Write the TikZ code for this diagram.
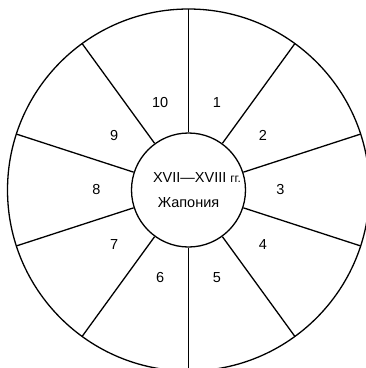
\documentclass[tikz,border=0pt]{standalone}
\usepackage{fontspec}
\setmainfont{Liberation Sans}
\usetikzlibrary{calc}
\begin{document}
\begin{tikzpicture}[x=1pt,y=1pt,
  ln/.style={line width=1.3pt,black},
  num/.style={font=\fontsize{14.5}{14}\selectfont,inner sep=0pt},
  ctext/.style={font=\fontsize{14.5}{14}\selectfont,inner sep=0pt,anchor=base}]
\useasboundingbox (0,0) rectangle (366,-368);
\clip (0,0) rectangle (366,-368);
\coordinate (c) at (188.5,-190);
\draw[ln] (c) circle[radius=181];
\node[ln,draw,circle,minimum size=114pt,inner sep=0pt] (inner) at (c) {};
\foreach \a in {90,54,18,-18,-54,-90,-126,-162,162,126}{
  \coordinate (s\a) at ($(c)+(\a:181)$);
  \draw[ln] (inner.\a) -- (s\a);
}
\foreach \n/\a in {1/72,2/36,3/0,4/-36,5/-72,6/-108,7/-144,8/180,9/144,10/108}{
  \node[num] (n\n) at ($(c)+(\a:92)$) {\n};
}
\node[ctext] (t1) at (197,-182) {XVII—XVIII {\fontsize{12}{12}\selectfont гг.}};
\node[ctext] (t2) at (188.5,-207) {Жапония};
\end{tikzpicture}
\end{document}
